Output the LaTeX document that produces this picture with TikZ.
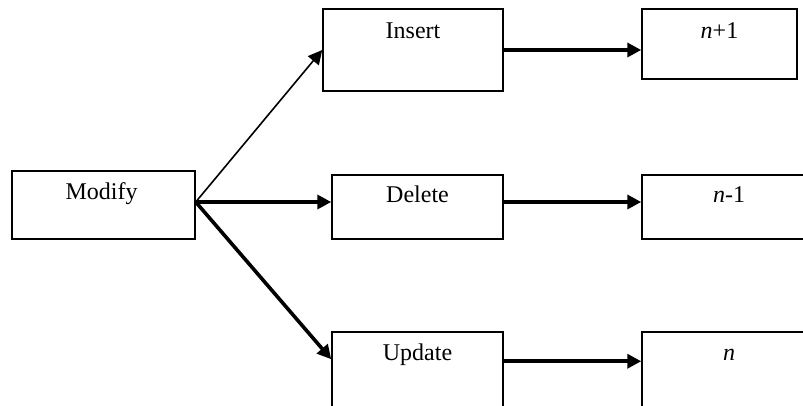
\documentclass[tikz,border=0pt]{standalone}
\usepackage{fontspec}
\setmainfont{Liberation Serif}
\usetikzlibrary{arrows.meta}
\begin{document}
\begin{tikzpicture}[x=1pt,y=1pt,
  box/.style={draw, line width=1.5pt, inner sep=0pt},
  lbl/.style={anchor=base, inner sep=0pt, font=\fontsize{24}{28}\selectfont},
  arr/.style={line width=3.6pt, -{Triangle[length=14pt,width=14pt]}},
  thinarr/.style={line width=1.6pt, -{Triangle[length=14pt,width=14pt]}}]
\useasboundingbox (0,0) rectangle (803,405);
\clip (0,0) rectangle (803,405);

% boxes
\node[box, minimum width=183pt, minimum height=68pt] (mod) at (103.5,200) {};
\node[box, minimum width=180pt, minimum height=82pt] (ins) at (413,355) {};
\node[box, minimum width=171pt, minimum height=64pt] (del) at (417.5,198) {};
\node[box, minimum width=171pt, minimum height=90pt] (upd) at (417.5,28) {};
\node[box, minimum width=155pt, minimum height=70pt] (np1) at (719.5,361) {};
\node[box, minimum width=174pt, minimum height=64pt] (nm1) at (729,198) {};
\node[box, minimum width=174pt, minimum height=90pt] (nn) at (729,28) {};

% labels near the top of each box
\node[lbl] (modt) at ([xshift=-2pt,yshift=-29pt]mod.north) {Modify};
\node[lbl] (inst) at ([yshift=-30pt]ins.north) {Insert};
\node[lbl] (delt) at ([yshift=-28pt]del.north) {Delete};
\node[lbl] (updt) at ([yshift=-29pt]upd.north) {Update};
\node[lbl] (np1t) at ([yshift=-30pt]np1.north) {\textit{n}+1};
\node[lbl] (nm1t) at ([yshift=-28pt]nm1.north) {\textit{n}-1};
\node[lbl] (nnt) at ([yshift=-29pt]nn.north) {\textit{n}};

% connectors
\coordinate (fork) at ([yshift=3pt]mod.east);
\coordinate (updin) at ([yshift=-28pt]upd.north west);
\coordinate (updout) at ([yshift=-30pt]upd.north east);
\draw[thinarr] (fork) -- (ins.west);
\draw[arr] (fork) -- (del.west |- fork);
\draw[arr] (fork) -- (updin);
\draw[arr] (ins.east) -- (np1.west |- ins.east);
\draw[arr] (del.east |- fork) -- (nm1.west |- fork);
\draw[arr] (updout) -- (nn.west |- updout);
\end{tikzpicture}
\end{document}
